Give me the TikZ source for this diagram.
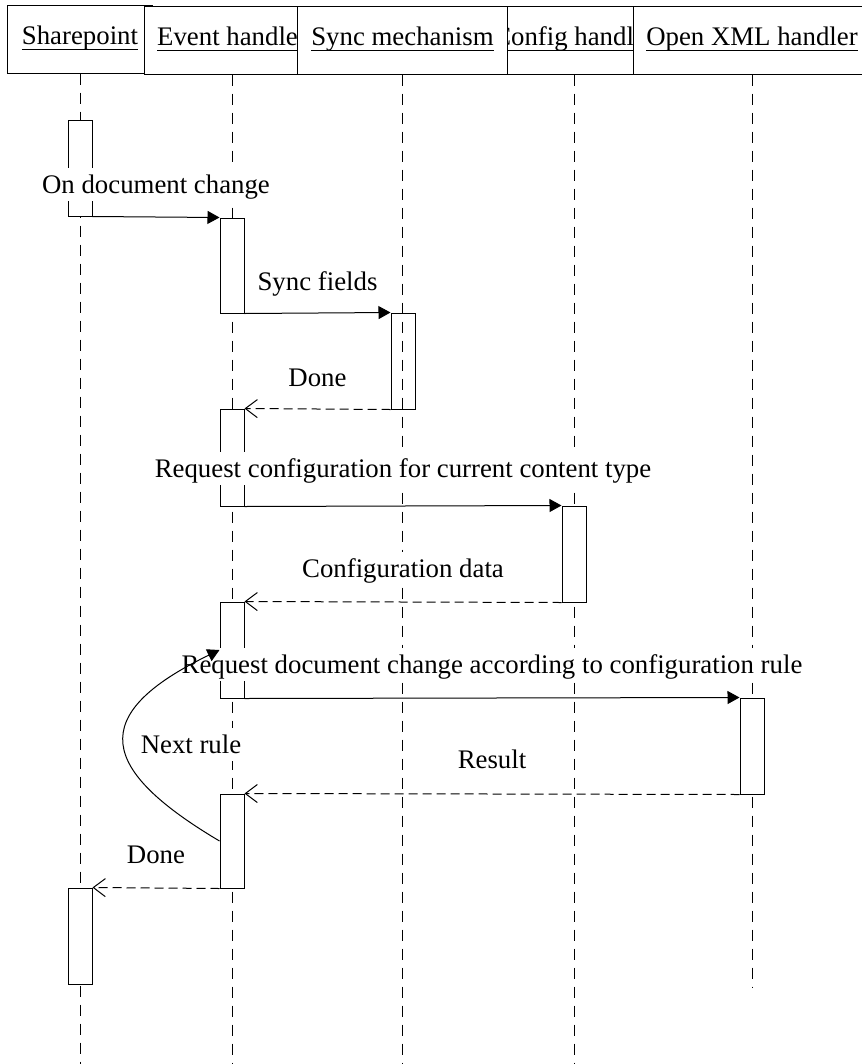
\documentclass[tikz,border=0pt]{standalone}
\usepackage{fontspec}
\setmainfont{Liberation Serif}
\usetikzlibrary{arrows.meta}
\newsavebox\ulbox
\newcommand\ulin[1]{\sbox\ulbox{#1}\rlap{\rule[-5bp]{\wd\ulbox}{1bp}}\usebox\ulbox}
\begin{document}
\begin{tikzpicture}[x=1bp,y=-1bp, line width=1bp,
  every node/.style={font=\fontsize{26.8bp}{32bp}\selectfont},
  head/.style={draw, fill=white, minimum height=68bp, inner sep=0pt, text height=18bp, text depth=7bp},
  act/.style={draw, fill=white, minimum width=24bp, inner sep=0pt},
  life/.style={dash pattern=on 11bp off 8bp},
  call/.style={-{Triangle[length=12bp,width=13bp]}},
  ret/.style={dash pattern=on 9bp off 5bp, -{Straight Barb[length=12bp,width=18bp]}},
  lbl/.style={fill=white, inner sep=1bp, text height=24bp, text depth=7bp, anchor=base}
]
\useasboundingbox (0,0) rectangle (862,1064);
% headers
\node[head, minimum width=144bp] (sp) at (80,39) {\ulin{Sharepoint}};
\node[head, minimum width=176bp] (eh) at (232,40) {\ulin{Event handler}};
\node[head, minimum width=188bp] (ch) at (574,40) {\ulin{Config handler}};
\node[head, minimum width=238bp] (ox) at (752,40) {\ulin{Open XML handler}};
\node[head, minimum width=210bp] (sm) at (402.5,40) {\ulin{Sync mechanism}};
% lifeline ends
\coordinate (spE) at (80,1064);
\coordinate (ehE) at (232,1064);
\coordinate (smE) at (402.5,1064);
\coordinate (chE) at (574,1064);
\coordinate (oxE) at (752,988);
\draw[life] (sp.south) -- (spE);
\draw[life] (eh.south) -- (ehE);
\draw[life] (ch.south) -- (chE);
\draw[life] (ox.south) -- (oxE);
% activations
\node[act, minimum height=96bp] (a1) at (80,168) {};
\node[act, minimum height=95bp] (a2) at (232,265.5) {};
\node[act, minimum height=96bp] (a3) at (403,361) {};
\node[act, minimum height=97bp] (a4) at (232,457.5) {};
\node[act, minimum height=96bp] (a5) at (574,554) {};
\node[act, minimum height=96bp] (a6) at (232,650) {};
\node[act, minimum height=96bp] (a7) at (752,746) {};
\node[act, minimum height=94bp] (a8) at (232,841) {};
\node[act, minimum height=96bp] (a9) at (80,936) {};
\draw[life] (sm.south) -- (smE);
% messages
\draw[call] (a1.south east) -- node[lbl, yshift=24bp] (m1) {On document change} (a2.north west);
\draw[call] (a2.south east) -- node[lbl, yshift=23bp] (m2) {Sync fields} (a3.north west);
\draw[ret] (a3.south west) -- node[lbl, yshift=23bp] (m3) {Done} (a4.north east);
\draw[call] (a4.south east) -- node[lbl, yshift=29bp] (m4) {Request configuration for current content type} (a5.north west);
\draw[ret] (a5.south west) -- node[lbl, yshift=25bp] (m5) {Configuration data} (a6.north east);
\draw[call] (a6.south east) -- node[lbl, yshift=25bp] (m6) {Request document change according to configuration rule} (a7.north west);
\draw[ret] (a7.south west) -- node[lbl, yshift=26bp] (m7) {Result} (a8.north east);
\draw[ret] (a8.south west) -- node[lbl, yshift=25bp] (m8) {Done} (a9.north east);
\node[lbl] (m9) at (191,753) {Next rule};
\draw[call] (a8.west) .. controls (100,770) and (85,715) .. (a6.west);
\end{tikzpicture}
\end{document}
